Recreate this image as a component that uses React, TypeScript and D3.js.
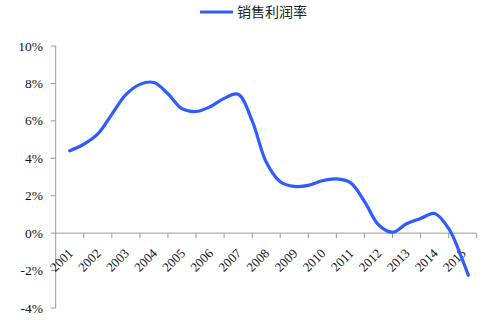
import React from "react";
import * as d3 from "d3";

const categories = ["2001","2002","2003","2004","2005","2006","2007","2008","2009","2010","2011","2012","2013","2014","2015"];
// position in years (fractional, relative to category start) and value (%)
const periods = [0.5,1.0,1.5,2.0,2.5,3.0,3.5,4.0,4.5,5.0,5.5,6.0,6.5,7.0,7.5,8.0,8.5,9.0,9.5,10.0,10.5,11.0,11.5,12.0,12.5,13.0,13.5,14.0,14.5,14.7];
const margins = [4.4,4.75,5.3,6.35,7.4,7.95,8.05,7.45,6.65,6.5,6.75,7.2,7.42,6.0,3.8,2.75,2.5,2.55,2.8,2.9,2.7,1.7,0.45,0.05,0.5,0.78,1.05,0.25,-1.45,-2.25];
const yTicks = [-4,-2,0,2,4,6,8,10];
const seriesName = "销售利润率";

export default function App() {
  const W = 486, H = 320;
  const x0 = 55.7, x1 = 476.7;
  const x = d3.scaleLinear().domain([0, categories.length]).range([x0, x1]);
  const y = d3.scaleLinear().domain([-4, 10]).range([308, 46]);
  const line = d3.line<number>()
    .x((_, i) => x(periods[i]))
    .y((d) => y(d))
    .curve(d3.curveCatmullRom.alpha(0.5));
  const axisColor = "#9a9a9a";
  const blue = "#2f5cff";
  const serif = "'Liberation Serif', 'Times New Roman', serif";
  return (
    <svg width={W} height={H} style={{ position: "absolute", left: 0, top: 0 }}>
      <rect width={W} height={H} fill="#fff" />
      {/* legend */}
      <line x1={200} x2={233} y1={12} y2={12} stroke={blue} strokeWidth={3} />
      <text x={237} y={17} fontSize={14} fontFamily="'Noto Sans CJK SC', sans-serif" fill="#222">{seriesName}</text>
      {/* y axis */}
      <line x1={x0} x2={x0} y1={y(10)} y2={y(-4)} stroke={axisColor} strokeWidth={1} />
      {yTicks.map((t) => (
        <g key={t}>
          <line x1={x0 - 5} x2={x0} y1={y(t)} y2={y(t)} stroke={axisColor} />
          <text x={43} y={y(t) + 4.5} textAnchor="end" fontSize={13.5} fontFamily={serif} fill="#111">{t + "%"}</text>
        </g>
      ))}
      {/* x axis at 0 */}
      <line x1={x0} x2={x1} y1={y(0)} y2={y(0)} stroke={axisColor} strokeWidth={1} />
      {categories.map((c, i) => (
        <g key={c}>
          <line x1={x(i + 1)} x2={x(i + 1)} y1={y(0)} y2={y(0) + 5} stroke={axisColor} />
          <text
            transform={`translate(${x(i + 0.5) + 4},${y(0) + 21}) rotate(-45)`}
            textAnchor="end"
            fontSize={13}
            fontFamily={serif}
            fill="#111"
          >{c}</text>
        </g>
      ))}
      <path d={line(margins) || ""} fill="none" stroke={blue} strokeWidth={3.2} strokeLinecap="round" />
    </svg>
  );
}
